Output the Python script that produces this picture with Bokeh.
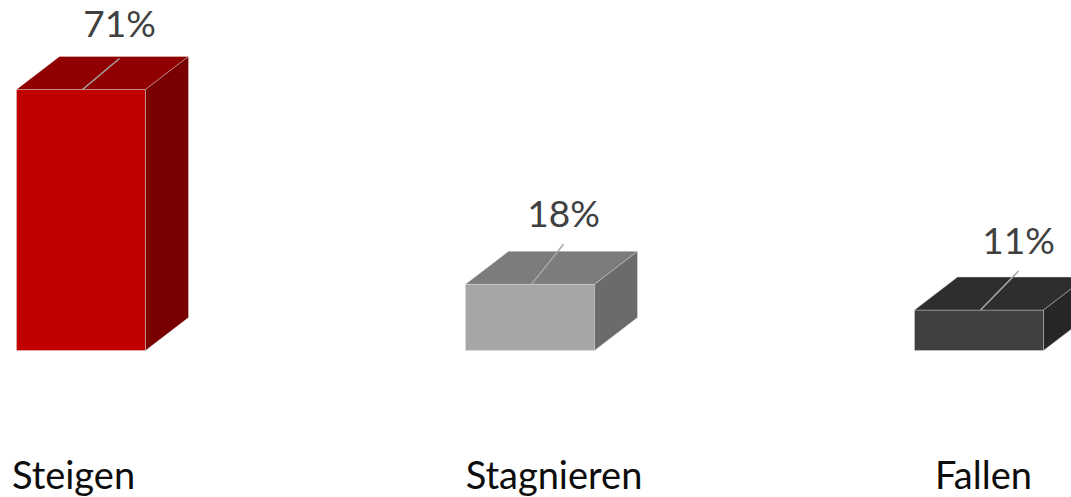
from bokeh.plotting import figure
from bokeh.models import Range1d, ColumnDataSource
from bokeh.core.properties import value
from bokeh.embed import file_html
from bokeh.resources import INLINE

# ---- data ----
categories = ["Steigen", "Stagnieren", "Fallen"]
shares = [71, 18, 11]
share_labels = ["71%", "18%", "11%"]

# ---- styles ----
front_colors = ["#C00000", "#A6A6A6", "#404040"]
top_colors = ["#900000", "#7C7C7C", "#2E2E2E"]
side_colors = ["#780000", "#6B6B6B", "#272727"]

# ---- layout constants (pixels) ----
W, H = 1071, 497
KX = 449.0            # px per category step
KY = 261.0 / 71.0     # px per percent
FRONT_W = 129.0       # px
DEPTH_X = 43.0        # px
DEPTH_Y = 33.0        # px
BASE_SCREEN_Y = 350
FIRST_CENTER = 80.5
LEADER_DX = [37, 32, 38]
LEADER_DY = [31, 40, 39]
LABEL_GAP = [36, 32, 32]
CAT_DX = [-7.5, 24, 4.5]
CAT_DY = 123

x_start = -FIRST_CENTER / KX
x_end = x_start + W / KX
y_end = BASE_SCREEN_Y / KY
y_start = y_end - H / KY

p = figure(width=W, height=H, output_backend="svg", toolbar_location=None,
           x_range=Range1d(x_start, x_end), y_range=Range1d(y_start, y_end),
           min_border=0, outline_line_color=None)
p.axis.visible = False
p.grid.visible = False
p.background_fill_color = "white"
p.border_fill_color = "white"

hw = FRONT_W / 2 / KX
dx = DEPTH_X / KX
dy = DEPTH_Y / KY

xs = list(range(len(categories)))
left = [x - hw for x in xs]
right = [x + hw for x in xs]

# front faces
p.quad(left=left, right=right, bottom=[0] * len(xs), top=shares,
       fill_color=front_colors, line_color="#E8E8E8", line_width=0.6, line_alpha=0.6)

# top faces
top_xs = [[l, r, r + dx, l + dx] for l, r in zip(left, right)]
top_ys = [[v, v, v + dy, v + dy] for v in shares]
p.patches(top_xs, top_ys, fill_color=top_colors, line_color="#E8E8E8", line_width=0.6, line_alpha=0.6)

# side faces
side_xs = [[r, r, r + dx, r + dx] for r in right]
side_ys = [[0, v, v + dy, dy] for v in shares]
p.patches(side_xs, side_ys, fill_color=side_colors, line_color="#E8E8E8", line_width=0.6, line_alpha=0.6)

# leader lines
x0 = [x + 1.5 / KX for x in xs]
x1 = [x + (1.5 + ddx) / KX for x, ddx in zip(xs, LEADER_DX)]
y1 = [v + ddy / KY for v, ddy in zip(shares, LEADER_DY)]
p.segment(x0=x0, y0=shares, x1=x1, y1=y1, line_color="#A6A6A6", line_width=1.5)

# value labels
lab_src = ColumnDataSource(dict(x=x1, y=[yy + g / KY for yy, g in zip(y1, LABEL_GAP)], t=share_labels))
p.text(x="x", y="y", text="t", source=lab_src, text_align="center", text_baseline="alphabetic",
       text_font=value("Lato"), text_font_size="37px", text_color="#404040")

# category labels
cat_src = ColumnDataSource(dict(x=[x + d / KX for x, d in zip(xs, CAT_DX)],
                                y=[-CAT_DY / KY] * len(xs), t=categories))
p.text(x="x", y="y", text="t", source=cat_src, text_align="center", text_baseline="alphabetic",
       text_font=value("Lato"), text_font_size="38px", text_color="#0D0D0D")

open("out.html", "w").write(file_html(p, INLINE))
